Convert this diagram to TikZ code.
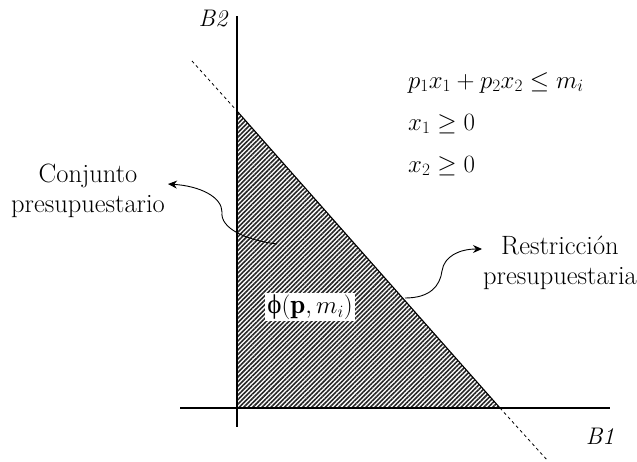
\documentclass[tikz,border=0pt]{standalone}
\usepackage{fontspec}
\newfontfamily\phifont{Liberation Serif}
\usetikzlibrary{patterns.meta,arrows.meta}
\begin{document}
\begin{tikzpicture}[x=1pt,y=-1pt,
  axis/.style={line width=2.4pt},
  lbl/.style={font=\fontsize{26.5}{29.5}\selectfont, align=center, inner sep=0pt},
  axlbl/.style={font=\fontsize{24}{28}\selectfont\itshape, inner sep=0pt},
  eq/.style={font=\fontsize{24}{28}\selectfont, anchor=base west, inner sep=0pt},
  curvearrow/.style={line width=0.9pt, -{Stealth[length=9pt,width=8pt]}}]
\useasboundingbox (0,0) rectangle (637,461);
\coordinate (O) at (237,408);
\coordinate (A) at (237,111);
\coordinate (C) at (500,408);
\coordinate (ytop) at (237,16);
\coordinate (ybot) at (237,427);
\coordinate (xl) at (180,408);
\coordinate (xr) at (610,408);
\coordinate (d1) at (192,61);
\coordinate (d2) at (548,461);
\fill[pattern={Lines[angle=45,distance=3.2pt,line width=1.6pt]},pattern color=black!85] (O) -- (A) -- (C) -- cycle;
\draw[dashed, line width=0.8pt] (d1) -- (A);
\draw[dashed, line width=0.8pt] (C) -- (d2);
\draw[line width=1.1pt] (A) -- (C);
\draw[axis] (ytop) -- (ybot);
\draw[axis] (xl) -- (xr);
\node[axlbl] (b2) at (213,19) {B2};
\node[axlbl] (b1) at (600,436) {B1};
\node[eq] (e1) at (408,88) {$p_1x_1+p_2x_2\leq m_i$};
\node[eq] (e2) at (408,130) {$x_1\geq 0$};
\node[eq] (e3) at (408,172) {$x_2\geq 0$};
\node[fill=white, inner sep=2pt, font=\fontsize{27}{30}\selectfont] (phi) at (310,307) {{\phifont ϕ}$\bigl(\mathbf{p},m_i\bigr)$};
\node[lbl] (conj) at (88,191) {Conjunto\\presupuestario};
\node[lbl] (restr) at (560,263) {Restricción\\presupuestaria};
\coordinate (cs) at (277,244);
\coordinate (ce) at (168,184);
\coordinate (rs) at (405,298);
\coordinate (re) at (482,249);
\draw[curvearrow] (cs) .. controls (245,240) and (220,228) .. (222,212) .. controls (222,197) and (200,186) .. (ce);
\draw[curvearrow] (rs) .. controls (430,298) and (440,286) .. (442,271) .. controls (444,256) and (460,249) .. (re);
\end{tikzpicture}
\end{document}
